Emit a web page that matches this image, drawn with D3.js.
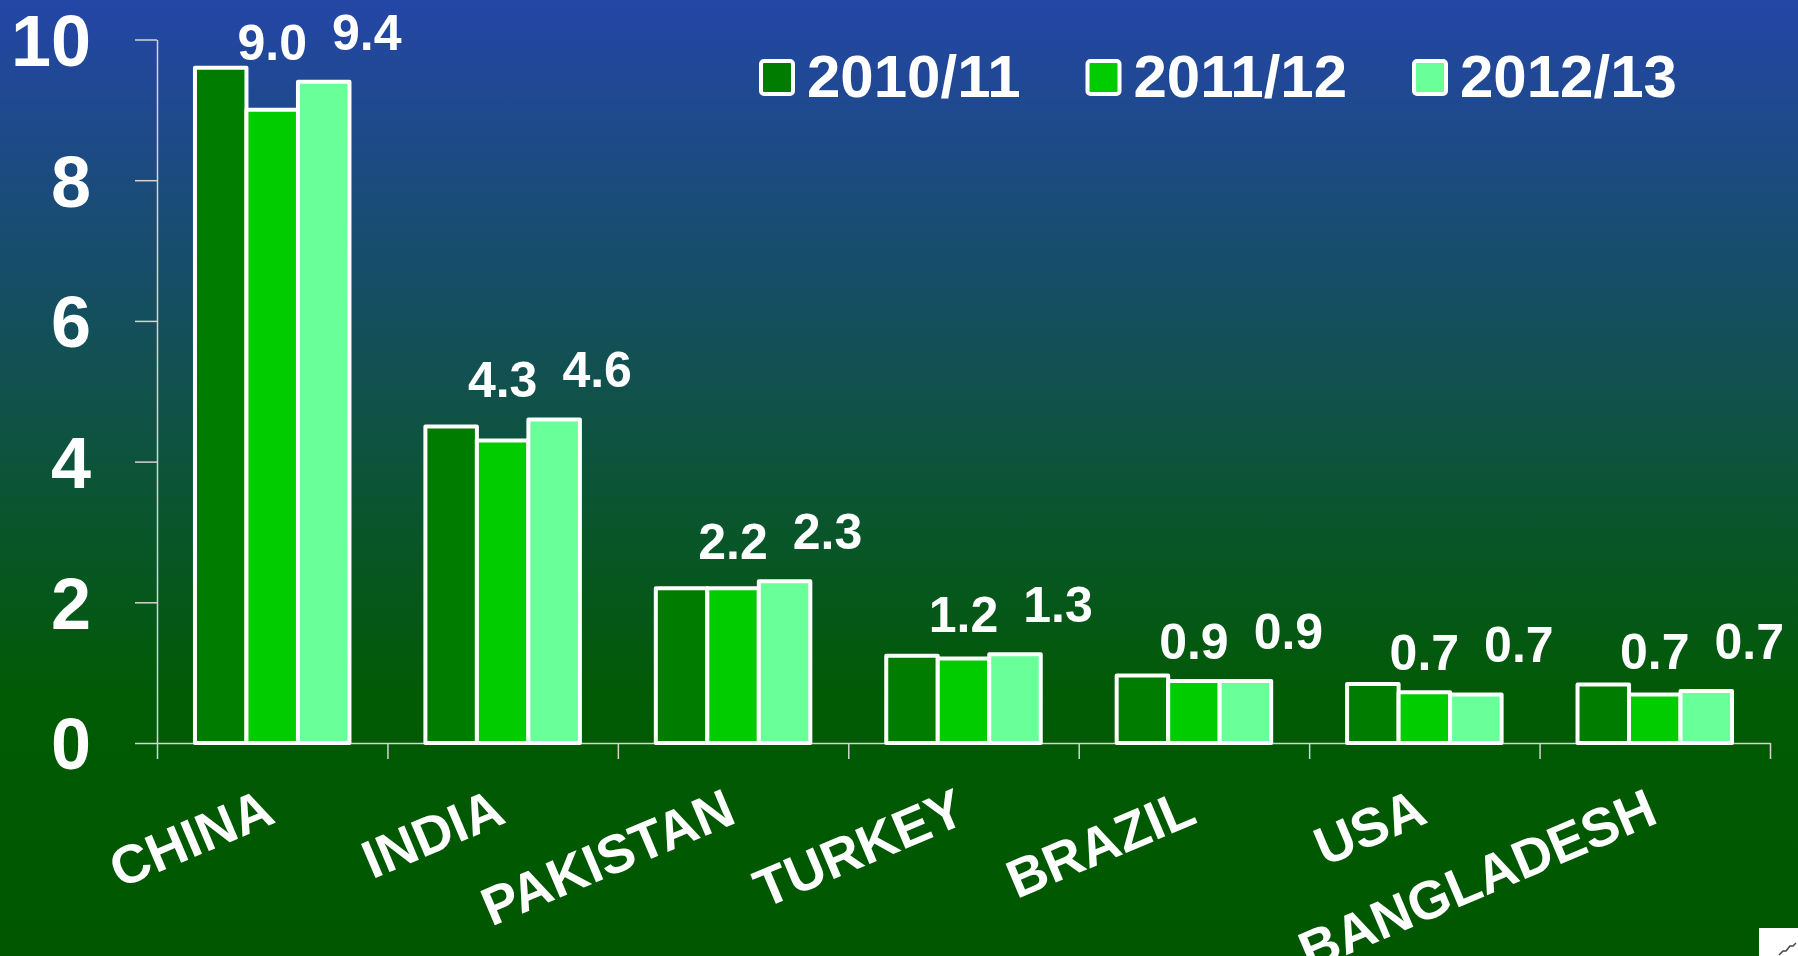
<!DOCTYPE html>
<html>
<head>
<meta charset="utf-8">
<script src="https://cdn.jsdelivr.net/npm/d3@7"></script>
<style>
  body { margin: 0; background: #005700; overflow: hidden; }
  #wrapper text { font-family: "Liberation Sans", Arial, sans-serif; font-weight: bold; fill: #ffffff; }
</style>
</head>
<body>
<div id="wrapper"></div>
<script>
// 1. Data

const countries = ["CHINA", "INDIA", "PAKISTAN", "TURKEY", "BRAZIL", "USA", "BANGLADESH"]
const seasons = ["2010/11", "2011/12", "2012/13"]
const values2010 = [9.6, 4.5, 2.2, 1.24, 0.96, 0.84, 0.83]
const values2011 = [9.0, 4.3, 2.2, 1.2, 0.88, 0.72, 0.69]
const values2012 = [9.4, 4.6, 2.3, 1.26, 0.88, 0.69, 0.74]
const yTicks = [0, 2, 4, 6, 8, 10]
const labelledSeasons = ["2011/12", "2012/13"]

const seriesValues = [values2010, values2011, values2012]
const colors = ["#007c00", "#00cc00", "#69ff99"]

function drawChart() {

  // 2. Dimensions

  let dimensions = {
    width: 1798,
    height: 956,
    margin: { top: 39.5, right: 28, bottom: 213, left: 157 },
  }
  dimensions.boundedWidth = dimensions.width - dimensions.margin.left - dimensions.margin.right
  dimensions.boundedHeight = dimensions.height - dimensions.margin.top - dimensions.margin.bottom

  // 3. Canvas + background gradient

  const wrapper = d3.select("#wrapper")
    .append("svg")
    .attr("width", dimensions.width)
    .attr("height", dimensions.height)

  const grad = wrapper.append("defs").append("linearGradient")
    .attr("id", "bg")
    .attr("x1", 0).attr("y1", 0).attr("x2", 0).attr("y2", 1)
  grad.append("stop").attr("offset", 0).attr("stop-color", "#2446a7")
  grad.append("stop").attr("offset", 0.73).attr("stop-color", "#015a04")
  grad.append("stop").attr("offset", 1).attr("stop-color", "#005700")

  wrapper.append("rect")
    .attr("width", dimensions.width)
    .attr("height", dimensions.height)
    .attr("fill", "url(#bg)")

  const bounds = wrapper.append("g")
    .attr("transform", `translate(${dimensions.margin.left}, ${dimensions.margin.top})`)

  // 4. Scales

  const x0 = d3.scaleBand()
    .domain(countries)
    .range([0, dimensions.boundedWidth])
    .padding(0)

  const x1 = d3.scaleBand()
    .domain(seasons)
    .range([0, x0.bandwidth()])
    .paddingInner(0)
    .paddingOuter(0.737)

  const yScale = d3.scaleLinear()
    .domain([0, 10])
    .range([dimensions.boundedHeight, 0])

  const edges = d3.scaleLinear()
    .domain([0, countries.length])
    .range([0, dimensions.boundedWidth])

  // 5. Axes

  const yAxis = bounds.append("g")
    .call(d3.axisLeft(yScale).tickValues(yTicks).tickSize(22).tickSizeOuter(0).tickPadding(44))
  yAxis.select(".domain").attr("stroke", "#d4d4d4").attr("stroke-width", 1.5)
  yAxis.selectAll(".tick line").attr("stroke", "#d4d4d4").attr("stroke-width", 1.5)
  yAxis.selectAll(".tick text")
    .attr("font-size", 72)
    .attr("dy", "0.36em")

  const xEdges = bounds.append("g")
    .attr("transform", `translate(0, ${dimensions.boundedHeight})`)
    .call(d3.axisBottom(edges).tickValues(d3.range(countries.length + 1)).tickSize(16).tickSizeOuter(0).tickFormat(""))
  xEdges.select(".domain").attr("stroke", "#d4d4d4").attr("stroke-width", 1.5)
  xEdges.selectAll(".tick line").attr("stroke", "#d4d4d4").attr("stroke-width", 1.5)

  const xLabels = bounds.append("g")
    .attr("transform", `translate(0, ${dimensions.boundedHeight})`)
    .call(d3.axisBottom(x0).tickSize(0))
  xLabels.select(".domain").remove()
  xLabels.selectAll(".tick text")
    .attr("font-size", 54)
    .attr("text-anchor", "end")
    .attr("x", 5)
    .attr("y", 79)
    .attr("dy", 0)
    .attr("transform", "rotate(-23, 5, 79)")

  // 6. Bars

  const groups = bounds.append("g")
    .selectAll("g")
    .data(countries)
    .join("g")
    .attr("transform", d => `translate(${x0(d)}, 0)`)

  groups.selectAll("rect")
    .data((d, i) => seasons.map((s, j) => ({ season: s, value: seriesValues[j][i], color: colors[j] })))
    .join("rect")
    .attr("x", d => x1(d.season))
    .attr("y", d => yScale(d.value))
    .attr("width", x1.bandwidth())
    .attr("height", d => yScale(0) - yScale(d.value))
    .attr("fill", d => d.color)
    .attr("stroke", "#ffffff")
    .attr("stroke-width", 4)
    .attr("stroke-linejoin", "round")

  // value labels, only 2011/12 and 2012/13 carry them
  // the 2011/12 label sits clear of the next bar, the 2012/13 one is pushed right
  groups.selectAll("text.value")
    .data((d, i) => seasons.map((s, j) => ({
        season: s,
        value: seriesValues[j][i],
        top: j == 1 ? Math.max(seriesValues[1][i], seriesValues[2][i]) : seriesValues[j][i],
        j: j
      }))
      .filter(d => labelledSeasons.includes(d.season)))
    .join("text")
    .attr("class", "value")
    .attr("x", d => x1(d.season) + x1.bandwidth() / 2 + (d.j == 2 ? 43 : 0))
    .attr("y", d => yScale(d.top) - (d.j == 2 ? 32 : 22))
    .attr("text-anchor", "middle")
    .attr("font-size", 50)
    .text(d => d3.format(".1f")(d.value))

  // 7. Legend

  const legend = wrapper.append("g")
    .attr("transform", "translate(759, 59)")

  const items = legend.selectAll("g")
    .data(seasons)
    .join("g")
    .attr("transform", (d, i) => `translate(${i * 326.5}, 0)`)

  items.append("rect")
    .attr("x", 2).attr("y", 2)
    .attr("width", 32).attr("height", 33)
    .attr("rx", 3)
    .attr("fill", (d, i) => colors[i])
    .attr("stroke", "#ffffff")
    .attr("stroke-width", 4)

  items.append("text")
    .attr("x", 48)
    .attr("y", 38)
    .attr("font-size", 60)
    .text(d => d)

  // little white corner box from the original slide
  wrapper.append("rect")
    .attr("x", 1759).attr("y", 928)
    .attr("width", 39).attr("height", 28)
    .attr("fill", "#ffffff")
  wrapper.append("path")
    .attr("d", "M1779,955 L1783,951 L1786,951 L1790,946 L1793,946 L1796,943")
    .attr("fill", "none")
    .attr("stroke", "#444")
    .attr("stroke-width", 1.5)
}
drawChart()
</script>
</body>
</html>
